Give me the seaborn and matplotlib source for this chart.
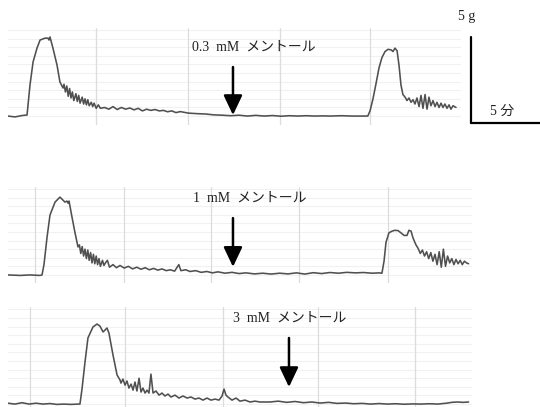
import numpy as np
import pandas as pd
import matplotlib
matplotlib.use('Agg')
import matplotlib.pyplot as plt
import seaborn as sns

# Tension traces: time (min) and tension (g)
t_03mM = [0, 0.5, 1.0, 1.36, 1.43, 1.57, 1.79, 2.07, 2.29, 2.64, 2.86, 2.93, 3.0,
          3.21, 3.5, 3.71, 3.93,
          4.0, 4.1, 4.2, 4.3, 4.4, 4.5, 4.6, 4.7, 4.85, 4.95, 5.05, 5.15, 5.3, 5.4, 5.5,
          5.6, 5.7, 5.8, 5.95, 6.05, 6.15, 6.3, 6.45, 6.6,
          6.9, 7.2, 7.5, 7.8, 8.1, 8.4, 8.7, 9.0, 9.3, 9.6, 9.9, 10.2, 10.5, 10.8, 11.1,
          11.4, 11.7, 12.0, 12.3, 12.9, 13.5, 14.1, 14.7, 15.3, 15.9, 16.5, 17.1, 17.7,
          18.3, 18.9, 19.5, 20.1, 20.7, 21.3, 21.9, 22.5, 23.0, 23.8, 24.6, 25.7,
          25.86, 26.07, 26.29, 26.5, 26.71, 26.93, 27.14, 27.36, 27.5, 27.64, 27.79, 27.93,
          28.07, 28.21, 28.36,
          28.5, 28.64, 28.79, 28.93, 29.07, 29.21, 29.36, 29.5, 29.64, 29.79, 29.93, 30.07,
          30.21, 30.36, 30.5, 30.64, 30.79, 30.93, 31.07, 31.21, 31.36, 31.5, 31.64, 31.79, 32.0]
g_03mM = [0, -0.05, 0.03, 0.06, 0.64, 1.8, 3.14, 3.95, 4.42, 4.53, 4.53, 4.42, 4.6,
          3.95, 2.97, 1.98, 1.63,
          1.85, 1.4, 1.75, 1.15, 1.6, 1.05, 1.4, 0.9, 1.3, 0.85, 1.2, 0.75, 1.1, 0.7, 1.0,
          0.65, 0.95, 0.6, 0.8, 0.55, 0.75, 0.45, 0.65, 0.45,
          0.5, 0.4, 0.55, 0.38, 0.5, 0.4, 0.47, 0.36, 0.45, 0.3, 0.4, 0.33, 0.38, 0.3, 0.33,
          0.25, 0.3, 0.2, 0.26, 0.17, 0.14, 0.12, 0.07, 0.05, 0.02, 0.05, 0.0, 0.04,
          0.0, 0.03, -0.01, 0.02, 0.0, 0.02, 0.0, 0.01, 0.0, 0.02, 0.0, 0.0,
          0.3, 1.0, 1.9, 2.8, 3.4, 3.75, 3.88, 3.85, 3.75, 3.95, 3.8, 2.95,
          1.8, 1.25, 1.1,
          0.9, 1.05, 0.8, 0.95, 0.7, 1.05, 0.55, 1.2, 0.45, 1.25, 0.4, 1.1,
          0.6, 0.9, 0.55, 0.8, 0.5, 0.75, 0.5, 0.7, 0.45, 0.65, 0.4, 0.6, 0.5]

t_1mM = [0, 0.86, 1.57, 2.29, 2.43, 2.57, 2.79, 3.0, 3.36, 3.71, 4.07, 4.21, 4.29,
         4.36, 4.57, 4.79, 5.0,
         5.1, 5.2, 5.3, 5.4, 5.5, 5.6, 5.7, 5.8, 5.9, 6.0, 6.1, 6.2,
         6.3, 6.4, 6.5, 6.6, 6.75, 6.85, 7.0, 7.1, 7.25, 7.5, 7.75, 8.0, 8.3, 8.6, 8.9,
         9.2, 9.5, 9.8, 10.1, 10.4, 10.7, 11.0, 11.3, 11.6, 11.9, 12.2, 12.35, 12.7,
         13.0, 13.4, 13.8, 14.2, 14.6, 15.0, 15.5, 16.0, 16.5, 17.0, 17.6, 18.2, 18.8,
         19.4, 20.0, 20.6, 21.2, 21.8, 22.4, 23.0, 23.6, 24.2, 24.8, 25.4, 26.0, 26.5,
         26.71, 26.86, 27.0, 27.21, 27.43, 27.64, 27.86, 28.07, 28.29, 28.5, 28.64, 28.79,
         28.93, 29.14, 29.29,
         29.45, 29.6, 29.75, 29.9, 30.05, 30.2, 30.35, 30.5, 30.65, 30.8, 30.95, 31.1,
         31.25, 31.4, 31.55, 31.7, 31.85, 32.0, 32.15, 32.3, 32.45, 32.6, 32.75, 32.9]
g_1mM = [0, -0.03, 0, -0.03, 0.0, 0.6, 2.2, 3.49, 4.24, 4.53, 4.24, 4.3, 4.18,
         4.3, 3.37, 2.44, 1.63,
         1.75, 1.25, 1.65, 1.1, 1.5, 0.95, 1.45, 0.85, 1.3, 0.7, 1.2, 0.65,
         1.1, 0.6, 0.95, 0.5, 0.85, 0.55, 0.75, 0.85, 0.45, 0.6, 0.42, 0.55, 0.4, 0.5, 0.35,
         0.45, 0.33, 0.42, 0.3, 0.38, 0.28, 0.35, 0.25, 0.3, 0.22, 0.6, 0.25, 0.3,
         0.2, 0.25, 0.15, 0.2, 0.12, 0.18, 0.1, 0.15, 0.08, 0.12, 0.06, 0.1, 0.05,
         0.1, 0.06, 0.12, 0.05, 0.13, 0.08, 0.14, 0.1, 0.15, 0.12, 0.14, 0.1, 0.12,
         0.1, 0.8, 1.9, 2.45, 2.55, 2.6, 2.58, 2.45, 2.3, 2.3, 2.6, 2.55,
         2.15, 1.75, 1.55,
         1.25, 1.45, 1.1, 1.35, 0.95, 1.3, 0.8, 1.2, 0.6, 1.35, 0.45, 1.5,
         0.5, 1.1, 0.7, 0.95, 0.6, 0.9, 0.65, 0.85, 0.6, 0.8, 0.7, 0.65]

t_3mM = [0, 0.5, 1.0, 1.5, 2.0, 2.5, 3.0, 3.5, 4.0, 4.5, 5.0,
         5.14, 5.29, 5.5, 5.71, 6.07, 6.36, 6.57, 6.79, 6.93, 7.07, 7.21, 7.5,
         7.79, 8.0,
         8.07, 8.21, 8.36, 8.5, 8.64, 8.79, 8.93, 9.07, 9.21, 9.36, 9.5, 9.64, 9.79, 9.93,
         10.07, 10.21, 10.36, 10.57, 10.79, 11.0, 11.21, 11.43, 11.64, 11.93, 12.21, 12.5,
         12.79, 13.07, 13.36, 13.64, 13.93, 14.21, 14.5, 14.79, 15.07, 15.29, 15.43, 15.57,
         15.71, 16.0, 16.29, 16.57, 16.93, 17.29, 17.64, 18.0, 18.71, 19.3, 19.9, 20.5,
         21.1, 21.7, 22.3, 22.9, 23.5, 24.1, 24.7, 25.3, 25.9, 26.5, 27.1, 27.7, 28.3,
         28.9, 29.5, 30.1, 30.7, 31.3, 31.7, 32.1, 32.5, 32.9]
g_3mM = [0.05, 0, 0.08, 0.0, 0.05, 0.0, 0.03, -0.02, 0.0, -0.02, 0.0,
         0.0, 0.9, 2.44, 3.84, 4.48, 4.65, 4.53, 4.19, 4.3, 4.42, 4.13, 2.85,
         1.69, 1.4,
         1.22, 1.45, 1.1, 1.34, 0.93, 1.16, 0.81, 1.28, 0.76, 1.5, 0.7, 0.93, 0.64, 0.81,
         0.64, 1.74, 0.64, 0.76, 0.52, 0.64, 0.47, 0.58, 0.41, 0.52, 0.35, 0.47,
         0.35, 0.41, 0.29, 0.35, 0.23, 0.35, 0.23, 0.29, 0.23, 0.47, 0.87, 0.52,
         0.41, 0.23, 0.35, 0.17, 0.23, 0.12, 0.17, 0.12, 0.12, 0.17, 0.1, 0.15,
         0.08, 0.12, 0.06, 0.1, 0.04, 0.06, 0.02, 0.04, 0.0, 0.03, 0.0, 0.02, -0.01,
         0.01, 0.0, 0.02, 0.0, 0.05, 0.1, 0.12, 0.1, 0.12]

labels = ['0.3  mM  メントール', '1  mM  メントール', '3  mM  メントール']
arrow_t = [16.07, 16.07, 20.07]          # menthol application (min)
arrow_from = [2.85, 3.31, 3.84]          # arrow tail (g)
arrow_to = [0.06, 0.47, 0.99]            # arrow tip (g)
label_t = [13.14, 13.21, 16.07]
label_g = [4.01, 4.48, 5.0]

sns.set_style('white')
plt.rcParams['font.family'] = ['Liberation Serif', 'Noto Sans CJK JP']

W, H = 540, 407
fig = plt.figure(figsize=(5.4, 4.07), dpi=100)


def px_axes(x0, y0, x1, y1):
    # axes box given in pixel coords (top-left origin)
    return fig.add_axes([x0 / W, 1 - y1 / H, (x1 - x0) / W, (y1 - y0) / H])


# panel boxes in pixels, y-limits in g, paper grid lines (min)
panels = [
    dict(t=t_03mM, g=g_03mM, box=(8, 28, 461, 125), ylim=(-0.52, 5.12),
         vgrid=[6.29, 12.86, 19.43, 25.86]),
    dict(t=t_1mM, g=g_1mM, box=(8, 187, 472, 283), ylim=(-0.47, 5.12),
         vgrid=[1.93, 8.29, 14.5, 20.79, 27.14]),
    dict(t=t_3mM, g=g_3mM, box=(8, 307, 472, 407), ylim=(-0.17, 5.64),
         vgrid=[1.57, 8.36, 15.36, 22.14, 29.07]),
]

for i, p in enumerate(panels):
    x0, y0, x1, y1 = p['box']
    ax = px_axes(x0, y0, x1, y1)
    ax.set_xlim(0, (x1 - x0) / 14)
    ax.set_ylim(*p['ylim'])
    # recorder paper: faint horizontal rules, light vertical rules
    for yy in np.arange(-0.5, 6, 0.5):
        ax.axhline(yy, color='#f1f1f1', lw=0.8, zorder=0)
    for xx in p['vgrid']:
        ax.axvline(xx, color='#dcdcdc', lw=0.9, zorder=0)
    df = pd.DataFrame({'time': p['t'], 'tension': p['g']})
    sns.lineplot(data=df, x='time', y='tension', ax=ax, color='#505050',
                 lw=1.15, estimator=None, sort=False, legend=False)
    ax.annotate('', xy=(arrow_t[i], arrow_to[i]), xytext=(arrow_t[i], arrow_from[i]),
                arrowprops=dict(arrowstyle='-|>,head_length=0.8,head_width=0.38',
                                color='black', lw=1.8, mutation_scale=15,
                                shrinkA=0, shrinkB=0))
    ax.text(label_t[i], label_g[i], labels[i], ha='left', va='center',
            fontsize=10, color='#222222')
    ax.set_axis_off()

# scale bar: 5 g vertical, 5 min horizontal
sb = px_axes(471, 28, 540, 125)
sb.set_xlim(0, 69 / 14)
sb.set_ylim(-0.52, 5.12)
sb.plot([0, 0], [-0.41, 4.59], color='black', lw=1.6, clip_on=False)
sb.plot([0, 5], [-0.41, -0.41], color='black', lw=1.6, clip_on=False)
sb.text(-0.95, 5.8, '5 g', ha='left', va='center', fontsize=10, color='#222222')
sb.text(1.35, 0.3, '5 分', ha='left', va='center', fontsize=10, color='#222222')
sb.set_axis_off()

fig.savefig('out.png', dpi=100)
